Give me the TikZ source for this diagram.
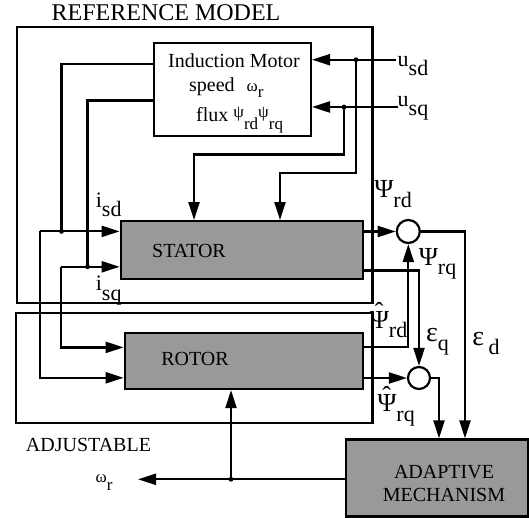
\documentclass[tikz,border=0pt]{standalone}
\usepackage{fontspec}
\setmainfont{Liberation Serif}
\usepackage{xcolor}
\usepackage{tikz}
\usetikzlibrary{arrows.meta,positioning}
\definecolor{boxgray}{RGB}{153,153,153}
\newcommand{\lowsub}[1]{\raisebox{-0.42em}{#1}}
\newcommand{\hatpsi}{\leavevmode\rlap{\hspace{0.2em}\raisebox{0.3em}{ˆ}}Ψ}

\begin{document}
\begin{tikzpicture}[x=1pt,y=-1pt,
    wire/.style={line width=2.2pt},
    sig/.style={wire,-{Triangle[length=18pt,width=11pt]}},
    blk/.style={draw,line width=2.2pt,fill=boxgray,inner sep=0pt},
    sumc/.style={circle,draw,line width=2.2pt,fill=white,minimum size=23pt,inner sep=0pt},
    txt/.style={inner sep=0pt,font=\fontsize{20}{23.5}\selectfont},
    lbl/.style={inner sep=0pt,font=\fontsize{22}{26}\selectfont}]
  \useasboundingbox (0,0) rectangle (529,518);
  % the two model frames
  \draw[wire] (17.3,27) rectangle (372.5,302.7);
  \draw[wire] (16,313) rectangle (372.5,422.7);
  \node[txt,font=\fontsize{24}{28}\selectfont] (refttl) at (166,13) {REFERENCE MODEL};
  \node[txt] (adjttl) at (88.5,444.5) {ADJUSTABLE};

  % blocks
  \node[blk,fill=white,minimum width=157pt,minimum height=93pt] (im) at (232.4,89.5) {};
  \node[blk,minimum width=242pt,minimum height=58pt] (stator) at (241.75,250.15) {};
  \node[blk,minimum width=238pt,minimum height=56pt] (rotor) at (243.75,361) {};
  \node[blk,minimum width=182pt,minimum height=77pt] (adapt) at (437,478) {};
  \node[sumc] (c1) at (408.3,231.5) {};
  \node[sumc,minimum size=22pt] (c2) at (419,378) {};

  \node[txt] (imttl) at (234,61) {Induction Motor};
  \node[txt,anchor=base west] (imspd) at (189,92)
    {speed\hspace{0.6em}{\fontsize{17}{17}\selectfont ω\raisebox{-0.3em}{r}}};
  \node[txt,anchor=base west] (imflx) at (196,122)
    {flux {\fontsize{17}{17}\selectfont\raisebox{0.25em}{ψ}\lowsub{rd}\raisebox{0.25em}{ψ}\lowsub{rq}}};
  \node[txt] (statl) at (189,251) {STATOR};
  \node[txt] (rotl) at (195,358.6) {ROTOR};
  \node[txt,align=center] (adtxt) at (444,483.5) {ADAPTIVE\\MECHANISM};

  % branch points
  \coordinate (usd) at (396,59.7);
  \coordinate (usq) at (398,107);
  \coordinate (dsd) at (356,59.7);
  \coordinate (dsq) at (344,107);
  \coordinate (jsd) at (61.5,231.4);
  \coordinate (jsq) at (87.5,266.8);
  \coordinate (lsd) at (40,231.4);
  \coordinate (lsq) at (61,266.8);
  \coordinate (dwr) at (231,479.3);
  \coordinate (wr) at (138,479.3);

  % voltages
  \draw[sig] (usd) -- (usd -| im.east);
  \draw[sig] (usq) -- (usq -| im.east);
  \draw[sig] (dsd) -- ++(0,113) -| (stator.north -| 280,0);
  \draw[sig] (dsq) -- ++(0,47.5) -| (stator.north -| 194,0);
  % currents
  \draw[wire] (im.west |- 0,64) -| (jsd);
  \draw[wire] (im.west |- 0,100.5) -| (jsq);
  \draw[sig] (lsd) -- (lsd -| stator.west);
  \draw[sig] (lsd) |- (rotor.west |- 0,377.8);
  \draw[sig] (lsq) -- (lsq -| stator.west);
  \draw[sig] (lsq) |- (rotor.west |- 0,347.4);
  % fluxes and errors
  \draw[sig] (stator.east |- c1.west) -- (c1.west);
  \draw[sig] (stator.east |- 0,270.5) -| (c2.north);
  \draw[sig] (rotor.east |- 0,347.3) -| (c1.south);
  \draw[sig] (rotor.east |- c2.west) -- (c2.west);
  \draw[sig] (c1.east) -| (adapt.north -| 465,0);
  \draw[sig] (c2.east) -| (adapt.north -| 439,0);
  % speed estimate
  \draw[sig] (adapt.west |- dwr) -- (wr);
  \draw[sig] (dwr) -- (dwr |- rotor.south);
  \foreach \p in {dsd,dsq,jsd,jsq,dwr}
    \fill (\p) circle (2.4pt);

  % labels
  \node[lbl] (usdl) at (413,66) {u\lowsub{sd}};
  \node[lbl] (usql) at (413,108.5) {u\lowsub{sq}};
  \node[lbl] (isdl) at (108.7,204.5) {i\lowsub{sd}};
  \node[lbl] (isql) at (108.7,290.6) {i\lowsub{sq}};
  \node[lbl] (psrd) at (393,194) {{\fontsize{26}{26}\selectfont Ψ}\lowsub{rd}};
  \node[lbl] (psrq) at (437.5,263.5) {{\fontsize{26}{26}\selectfont Ψ}\lowsub{rq}};
  \node[lbl] (hprd) at (388.5,320.5) {{\fontsize{26}{26}\selectfont\hatpsi}\lowsub{rd}};
  \node[lbl] (hprq) at (396,406) {{\fontsize{26}{26}\selectfont\hatpsi}\lowsub{rq}};
  \node[lbl] (epq) at (437.5,341.5) {{\fontsize{28}{28}\selectfont ε}\lowsub{q}};
  \node[lbl] (epd) at (486,343.5) {{\fontsize{28}{28}\selectfont ε}\hspace{0.2em}\lowsub{d}};
  \node[lbl,font=\fontsize{17}{20}\selectfont] (wrl) at (104,482.5) {ω\lowsub{r}};
\end{tikzpicture}
\end{document}
